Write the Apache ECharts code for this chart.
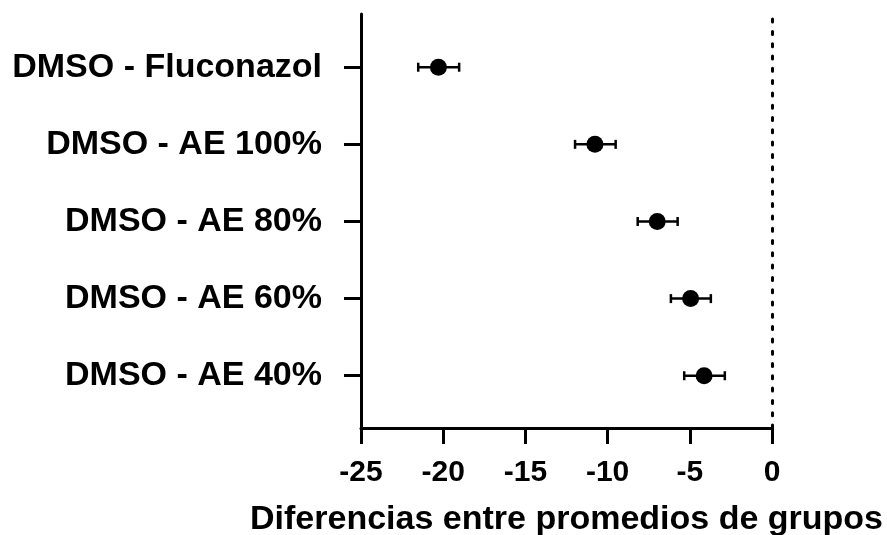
<!DOCTYPE html>
<html>
<head>
<meta charset="utf-8">
<script src="https://cdn.jsdelivr.net/npm/echarts@6/dist/echarts.min.js"></script>
<style>
html,body{margin:0;padding:0;background:#fff;}
#chart{width:887px;height:535px;}
</style>
</head>
<body>
<div id="chart"></div>
<script>
// Data
var categories = ['DMSO - AE 40%', 'DMSO - AE 60%', 'DMSO - AE 80%', 'DMSO - AE 100%', 'DMSO - Fluconazol'];
var positions = [1, 2, 3, 4, 5];
var means = [-4.13, -4.95, -6.98, -10.77, -20.29];
var lower = [-5.34, -6.15, -8.17, -11.98, -21.52];
var upper = [-2.87, -3.72, -5.74, -9.51, -19.03];
var xTicks = [-25, -20, -15, -10, -5, 0];
var xTitle = 'Diferencias entre promedios de grupos';

var FONT = '"Liberation Sans", Arial, Helvetica, sans-serif';

var pointData = means.map(function (m, i) { return [m, positions[i]]; });
var errData = means.map(function (m, i) { return [lower[i], upper[i], positions[i]]; });

var chart = echarts.init(document.getElementById('chart'));
chart.setOption({
  animation: false,
  backgroundColor: '#fff',
  grid: { left: 361, right: 115, top: 14, bottom: 107, containLabel: false, outerBoundsMode: 'none' },
  xAxis: {
    type: 'value',
    min: -25, max: 0, interval: 5,
    axisLine: { show: true, onZero: false, lineStyle: { color: '#000', width: 3 } },
    axisTick: { show: true, length: 16, lineStyle: { color: '#000', width: 3 } },
    axisLabel: {
      color: '#000', fontFamily: FONT, fontWeight: 'bold', fontSize: 30, margin: 30,
      customValues: xTicks
    },
    splitLine: { show: false },
    name: xTitle,
    nameLocation: 'middle',
    nameGap: 75,
    nameTextStyle: { color: '#000', fontFamily: FONT, fontWeight: 'bold', fontSize: 34, align: 'center' }
  },
  yAxis: {
    type: 'value',
    min: 0.3224, max: 5.69,
    axisLine: { show: true, onZero: false, lineStyle: { color: '#000', width: 3 } },
    axisTick: { show: true, length: 17, customValues: positions, lineStyle: { color: '#000', width: 3 } },
    axisLabel: {
      customValues: positions,
      color: '#000', fontFamily: FONT, fontWeight: 'bold', fontSize: 34, margin: 39,
      padding: [6, 0, 0, 0],
      formatter: function (v) { return categories[Math.round(v) - 1] || ''; }
    },
    splitLine: { show: false }
  },
  series: [
    {
      type: 'custom',
      data: errData,
      z: 2,
      renderItem: function (params, api) {
        var p1 = api.coord([api.value(0), api.value(2)]);
        var p2 = api.coord([api.value(1), api.value(2)]);
        var h = 4.5;
        var st = { stroke: '#000', lineWidth: 2.5 };
        return {
          type: 'group',
          children: [
            { type: 'line', shape: { x1: p1[0], y1: p1[1], x2: p2[0], y2: p2[1] }, style: st },
            { type: 'line', shape: { x1: p1[0], y1: p1[1] - h, x2: p1[0], y2: p1[1] + h }, style: st },
            { type: 'line', shape: { x1: p2[0], y1: p2[1] - h, x2: p2[0], y2: p2[1] + h }, style: st }
          ]
        };
      }
    },
    {
      type: 'scatter',
      data: pointData,
      symbol: 'circle',
      symbolSize: 17,
      z: 3,
      itemStyle: { color: '#000', opacity: 1 },
      markLine: {
        silent: true,
        symbol: 'none',
        label: { show: false },
        lineStyle: { color: '#000', width: 3, type: [3, 9.3], cap: 'round', opacity: 1 },
        data: [{ xAxis: 0 }]
      }
    }
  ]
});
</script>
</body>
</html>
